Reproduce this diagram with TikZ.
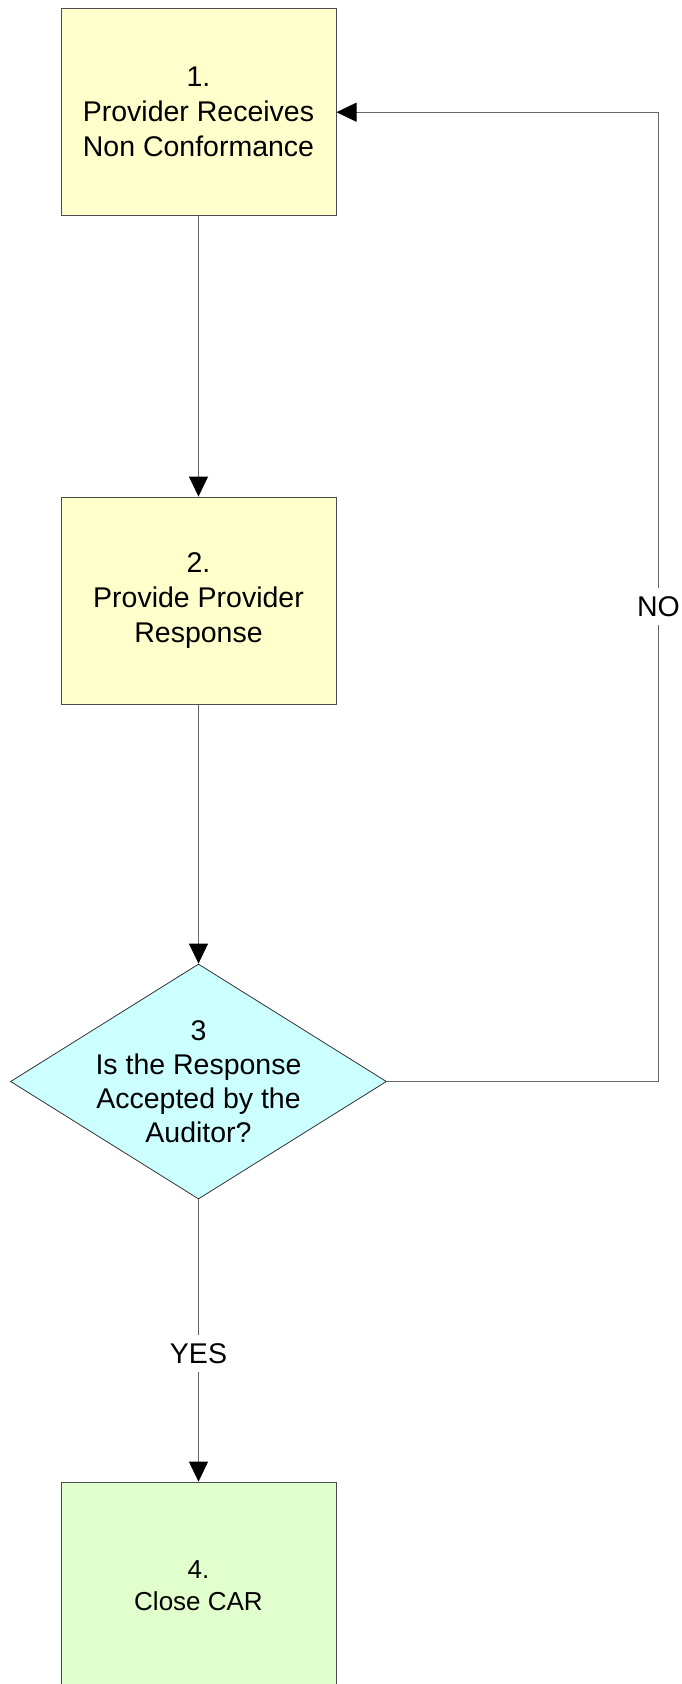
\documentclass[tikz,border=0pt]{standalone}
\usepackage{fontspec}
\setmainfont{Liberation Sans}
\usetikzlibrary{shapes.geometric,arrows.meta}
\definecolor{stepyellow}{HTML}{FFFFCC}
\definecolor{askcyan}{HTML}{CCFFFF}
\definecolor{endgreen}{HTML}{E1FFCC}
\begin{document}
\begin{tikzpicture}[x=1pt,y=-1pt,>={Triangle[length=20pt,width=19pt,color=black]},
    stepbox/.style={rectangle,draw=black!70,line width=1pt,fill=stepyellow,minimum width=275pt,minimum height=207.5pt,align=center,font=\fontsize{28.5}{35}\selectfont},
    ask/.style={diamond,draw=black!80,line width=0.8pt,fill=askcyan,minimum width=376pt,minimum height=235pt,aspect=1.6,inner sep=-14pt,align=center,font=\fontsize{28.5}{34}\selectfont},
    flow/.style={draw=black!60,line width=1pt},
    lab/.style={fill=white,inner sep=8.5pt,font=\fontsize{28.5}{35}\selectfont}]
    \clip (0,0) rectangle (682,1684);
    \node[stepbox] (rec) at (198.5,112.2) {1.\\Provider Receives\\Non Conformance};
    \node[stepbox] (resp) at (198.5,600.8) {2.\\Provide Provider\\Response};
    \node[ask] (check) at (198.5,1081.5) {3\\Is the Response\\Accepted by the\\Auditor?};
    \node[stepbox,fill=endgreen,font=\fontsize{26}{32}\selectfont] (close) at (198.5,1585.9) {4.\\Close CAR};
    \coordinate (back) at (658.5,0);
    \draw[flow,->] (rec) -- (resp);
    \draw[flow,->] (resp) -- (check);
    \draw[flow,->] (check) -- node[lab,pos=0.545]{YES} (close);
    \draw[flow,->] (check.east) -- (check.east -| back) -- node[lab,pos=0.49]{NO} (rec.east -| back) -- (rec.east);
\end{tikzpicture}
\end{document}
